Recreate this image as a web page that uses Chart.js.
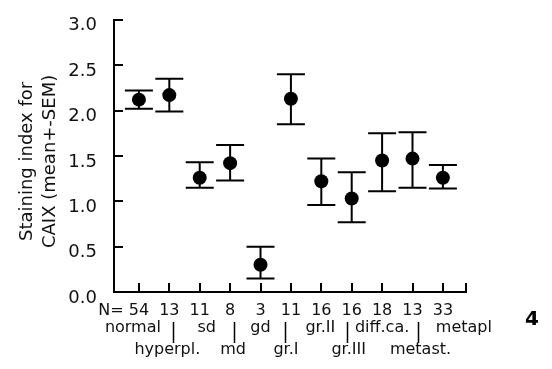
<!DOCTYPE html>
<html><head><meta charset="utf-8">
<script src="https://cdn.jsdelivr.net/npm/chart.js@4"></script>
<style>html,body{margin:0;padding:0;background:#fff}#wrap{width:552px;height:369px;position:relative}</style>
</head><body><div id="wrap"><canvas id="c"></canvas></div>
<script>
// ---- data ----
const categories = ['normal','hyperpl.','sd','md','gd','gr.I','gr.II','gr.III','diff.ca.','metast.','metapl'];
const nValues = [54, 13, 11, 8, 3, 11, 16, 16, 18, 13, 33];
const means = [2.12, 2.17, 1.26, 1.42, 0.30, 2.13, 1.22, 1.03, 1.45, 1.47, 1.26];
const upperSEM = [2.22, 2.35, 1.43, 1.62, 0.50, 2.40, 1.47, 1.32, 1.75, 1.76, 1.40];
const lowerSEM = [2.02, 1.99, 1.15, 1.23, 0.15, 1.85, 0.96, 0.77, 1.11, 1.15, 1.14];
const yTitle = ['Staining index for', 'CAIX (mean+-SEM)'];
const nPrefix = 'N=';
const panelLabel = '4';

const FONT = "'DejaVu Sans', sans-serif";
const INK = '#111';

const overlay = {
  id: 'overlay',
  beforeDatasetsDraw(chart, args, o) {
    const {ctx, scales: {x, y}} = chart;
    ctx.save();
    ctx.strokeStyle = '#000';
    ctx.lineWidth = 2;
    means.forEach((m, i) => {
      const px = x.getPixelForValue(i + 1);
      const pt = y.getPixelForValue(upperSEM[i]);
      const pb = y.getPixelForValue(lowerSEM[i]);
      ctx.beginPath();
      ctx.moveTo(px, pt); ctx.lineTo(px, pb);
      ctx.moveTo(px - o.cap, pt); ctx.lineTo(px + o.cap, pt);
      ctx.moveTo(px - o.cap, pb); ctx.lineTo(px + o.cap, pb);
      ctx.stroke();
    });
    ctx.restore();
  },
  afterDraw(chart, args, o) {
    const {ctx, scales: {x, y}, chartArea: ca} = chart;
    ctx.save();
    ctx.strokeStyle = '#000';
    ctx.lineWidth = 2;
    // inward tick marks
    ctx.beginPath();
    y.ticks.forEach(t => {
      const py = Math.round(y.getPixelForValue(t.value));
      ctx.moveTo(ca.left, py); ctx.lineTo(ca.left + o.tickLen, py);
    });
    const xt = categories.map((c, i) => i + 1).concat([x.max]);
    xt.forEach(v => {
      const px = Math.round(x.getPixelForValue(v));
      ctx.moveTo(px, ca.bottom); ctx.lineTo(px, ca.bottom - o.tickLen);
    });
    ctx.stroke();

    // category labels below axis
    ctx.fillStyle = INK;
    ctx.textAlign = 'center';
    ctx.textBaseline = 'middle';
    ctx.font = '16px ' + FONT;
    ctx.fillText(nPrefix, x.getPixelForValue(1) - 28, o.row1);
    ctx.lineWidth = 1.5;
    categories.forEach((c, i) => {
      const px = x.getPixelForValue(i + 1);
      ctx.fillText(String(nValues[i]), px, o.row1);
      if (i % 2 === 0) {
        ctx.fillText(c, px + o.nameShift[i], o.row2);
      } else {
        ctx.fillText(c, px + o.nameShift[i], o.row3);
        const lx = Math.round(px + o.linkShift[i]) + 0.5;
        ctx.beginPath();
        ctx.moveTo(lx, o.linkTop); ctx.lineTo(lx, o.linkBottom);
        ctx.stroke();
      }
    });

    // y axis title
    ctx.save();
    ctx.font = '18px ' + FONT;
    ctx.translate(o.titleX, (ca.top + ca.bottom) / 2 + o.titleShift);
    ctx.rotate(-Math.PI / 2);
    yTitle.forEach((line, k) => ctx.fillText(line, 0, k * o.titleLine));
    ctx.restore();

    // panel label
    ctx.font = 'bold 20px ' + FONT;
    ctx.fillStyle = '#000';
    ctx.fillText(panelLabel, o.panelX, o.panelY);
    ctx.restore();
  }
};

new Chart(document.getElementById('c'), {
  type: 'scatter',
  data: {
    datasets: [{
      data: means.map((m, i) => ({x: i + 1, y: m})),
      backgroundColor: '#000',
      borderColor: '#000',
      pointRadius: 7,
      pointHoverRadius: 7,
      borderWidth: 0
    }]
  },
  options: {
    responsive: true,
    maintainAspectRatio: false,
    animation: false,
    events: [],
    layout: {padding: {top: 15, right: 86, left: 0, bottom: 0}},
    plugins: {
      legend: {display: false},
      tooltip: {enabled: false},
      overlay: {
        cap: 14, tickLen: 9,
        row1: 311, row2: 327.5, row3: 350,
        linkTop: 322, linkBottom: 343,
        nameShift: [-6, -2, 7, 3, 0, -5, -1, -3, 0, 8, 21],
        linkShift: [0, 4, 0, 4, 0, -6, 0, -5, 0, 5, 0],
        titleX: 27, titleShift: 5.5, titleLine: 23,
        panelX: 532, panelY: 320
      }
    },
    scales: {
      x: {
        type: 'linear',
        min: 0.18, max: 11.76,
        ticks: {display: false},
        grid: {display: false},
        border: {display: true, color: '#000', width: 2},
        afterFit(s) { s.height = 77; }
      },
      y: {
        min: 0, max: 3,
        ticks: {
          stepSize: 0.5,
          callback: v => v.toFixed(1),
          font: {family: FONT, size: 18},
          color: INK,
          padding: 9,
          labelOffset: 6
        },
        grid: {display: false},
        border: {display: true, color: '#000', width: 2},
        afterFit(s) { s.width = 114; }
      }
    }
  },
  plugins: [overlay]
});
</script>
</body></html>
